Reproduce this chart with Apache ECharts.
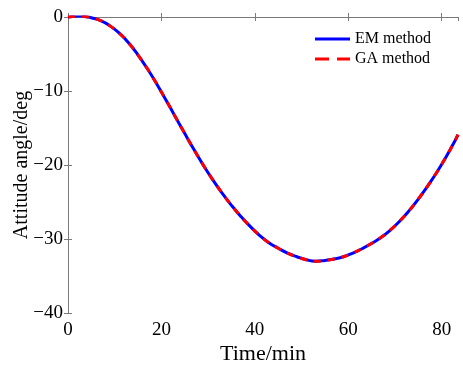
<!DOCTYPE html>
<html><head><meta charset="utf-8">
<script src="https://cdn.jsdelivr.net/npm/echarts@6/dist/echarts.min.js"></script>
<style>html,body{margin:0;padding:0;background:#fff}#c{width:463px;height:365px}</style>
</head><body><div id="c"></div>
<script>
var timeMin = [0,1,2,3,4,5,7,9,11,13,15,17,19,21,23,25,27,29,31,33,35,37,39,41,43,45,47,49,51,53,55,57,59,61,63,65,67,69,71,73,75,77,79,81,83,83.5];
var emAngle = [0,0.08,0.13,0.12,0.03,-0.1,-0.5,-1.2,-2.2,-3.5,-5.15,-7.0,-9.05,-11.25,-13.5,-15.75,-17.95,-20.05,-22.0,-23.8,-25.45,-26.95,-28.3,-29.5,-30.5,-31.25,-31.9,-32.4,-32.8,-33.0,-32.9,-32.7,-32.4,-31.9,-31.3,-30.6,-29.8,-28.8,-27.6,-26.2,-24.6,-22.85,-20.95,-18.85,-16.55,-15.9];
var gaAngle = emAngle.slice();
var xTicks = [0,20,40,60,80];
var yTicks = [-40,-30,-20,-10,0];
var seriesNames = ['EM method','GA method'];

function pairs(xs, ys){ return xs.map(function(x,i){return [x, ys[i]];}); }
var font = 'Liberation Serif';
var axisCol = '#7a7a7a';
var chart = echarts.init(document.getElementById('c'));
chart.setOption({
  animation:false,
  grid:{left:68,right:5,top:17,bottom:52,containLabel:false,outerBoundsMode:'none'},
  legend:{
    top:26,right:27,orient:'vertical',itemGap:4,itemWidth:35,itemHeight:10,
    textStyle:{fontFamily:font,fontSize:16,color:'#000'},
    data:[{name:seriesNames[0],icon:'path://M0,4L35,4L35,7L0,7Z'},{name:seriesNames[1],icon:'path://M0,4L14,4L14,7L0,7ZM22,4L35,4L35,7L22,7Z'}]
  },
  xAxis:[{
    type:'value',min:0,max:83.5,interval:20,
    name:'Time/min',nameLocation:'middle',nameGap:30,nameMoveOverlap:false,
    nameTextStyle:{fontFamily:font,fontSize:22,color:'#000'},
    axisLine:{show:true,lineStyle:{color:axisCol,width:1}},
    axisTick:{show:true,inside:true,length:4,lineStyle:{color:axisCol}},
    axisLabel:{fontFamily:font,fontSize:19,color:'#000',margin:8,showMaxLabel:false,
      formatter:function(v){return xTicks.indexOf(v)>=0?String(v):'';}},
    splitLine:{show:false}
  },{
    type:'value',position:'top',min:0,max:83.5,interval:20,
    axisLine:{show:true,lineStyle:{color:axisCol,width:1}},
    axisTick:{show:true,inside:true,length:4,lineStyle:{color:axisCol}},
    axisLabel:{show:false},splitLine:{show:false}
  }],
  yAxis:[{
    type:'value',min:-40,max:0,interval:10,
    name:'Attitude angle/deg',nameLocation:'middle',nameGap:36,nameMoveOverlap:false,
    nameTextStyle:{fontFamily:font,fontSize:20,color:'#000'},
    axisLine:{show:true,lineStyle:{color:axisCol,width:1}},
    axisTick:{show:true,inside:true,length:4,lineStyle:{color:axisCol}},
    axisLabel:{fontFamily:font,fontSize:19,color:'#000',margin:5,
      formatter:function(v){return v<0?'\u2212'+Math.abs(v):String(v);}},
    splitLine:{show:false}
  },{
    type:'value',position:'right',min:-40,max:0,interval:10,
    axisLine:{show:true,lineStyle:{color:axisCol,width:1}},
    axisTick:{show:true,inside:true,length:4,lineStyle:{color:axisCol}},
    axisLabel:{show:false},splitLine:{show:false}
  }],
  series:[{
    name:seriesNames[0],type:'line',data:pairs(timeMin,emAngle),smooth:0.5,showSymbol:false,
    lineStyle:{color:'#0000ff',width:3},itemStyle:{color:'#0000ff'}
  },{
    name:seriesNames[1],type:'line',data:pairs(timeMin,gaAngle),smooth:0.5,showSymbol:false,
    lineStyle:{color:'#ff0000',width:3,type:[7,7]},itemStyle:{color:'#ff0000'}
  }]
});
</script></body></html>
